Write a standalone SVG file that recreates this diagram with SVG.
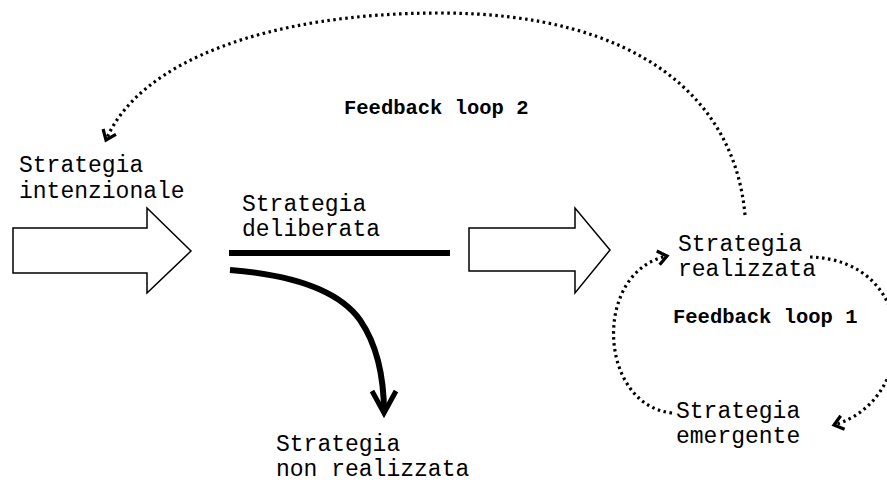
<svg xmlns="http://www.w3.org/2000/svg" width="887" height="483" viewBox="0 0 887 483">
<style>
  .t { font-family: "Liberation Mono", "Courier New", monospace; font-size: 23px; fill: #000; }
  .b { font-family: "Liberation Mono", "Courier New", monospace; font-size: 20.5px; font-weight: bold; fill: #000; }
  .block { fill: #fff; stroke: #000; stroke-width: 1.5; stroke-linejoin: miter; }
  .dot { fill: none; stroke: #000; stroke-width: 3.2; stroke-dasharray: 2.5 3.5; }
  .thick { fill: none; stroke: #000; stroke-width: 6; }
</style>
<defs>
  <marker id="chev" markerUnits="userSpaceOnUse" markerWidth="20" markerHeight="20" refX="9" refY="7" orient="auto" overflow="visible">
    <path d="M0,0 L9,7 L0,14" fill="none" stroke="#000" stroke-width="3.2"/>
  </marker>
  <marker id="bigchev" markerUnits="userSpaceOnUse" markerWidth="30" markerHeight="30" refX="22" refY="12" orient="auto" overflow="visible">
    <path d="M0,0 L22,12 L0,24" fill="none" stroke="#000" stroke-width="5"/>
  </marker>
</defs>

<g id="arrow-intenzionale">
  <polygon class="block" points="13,228 147,228 147,208 191,251 147,293 147,273 13,273"/>
</g>
<g id="arrow-realizzata">
  <polygon class="block" points="469,228 575,228 575,208 610,250 575,293 575,271 469,271"/>
</g>

<g id="node-intenzionale">
  <text class="t" x="19" y="172">Strategia</text>
  <text class="t" x="19" y="198">intenzionale</text>
</g>
<g id="node-deliberata">
  <text class="t" x="242" y="211">Strategia</text>
  <text class="t" x="242" y="236">deliberata</text>
</g>
<g id="node-realizzata">
  <text class="t" x="678" y="251">Strategia</text>
  <text class="t" x="678" y="276">realizzata</text>
</g>
<g id="node-emergente">
  <text class="t" x="676" y="418">Strategia</text>
  <text class="t" x="676" y="443">emergente</text>
</g>
<g id="node-nonrealizzata">
  <text class="t" x="276" y="451">Strategia</text>
  <text class="t" x="276" y="476">non realizzata</text>
</g>
<g id="label-loop2">
  <text class="b" x="344" y="114">Feedback loop 2</text>
</g>
<g id="label-loop1">
  <text class="b" x="673" y="323">Feedback loop 1</text>
</g>

<g id="connectors">
  <line class="thick" x1="229" y1="253" x2="450" y2="253"/>
  <path class="thick" stroke-width="5" d="M230,270 Q330,278 360,320 Q384,355 384,413" marker-end="url(#bigchev)"/>
  <path class="dot" d="M745,215 C735,100 640,13 440,13 C270,13 140,60 106,140" marker-end="url(#chev)"/>
  <path class="dot" d="M672,413 C598,405 592,272 667,256" marker-end="url(#chev)"/>
  <path class="dot" d="M810,257 C920,260 920,400 834,425" marker-end="url(#chev)"/>
</g>
</svg>
